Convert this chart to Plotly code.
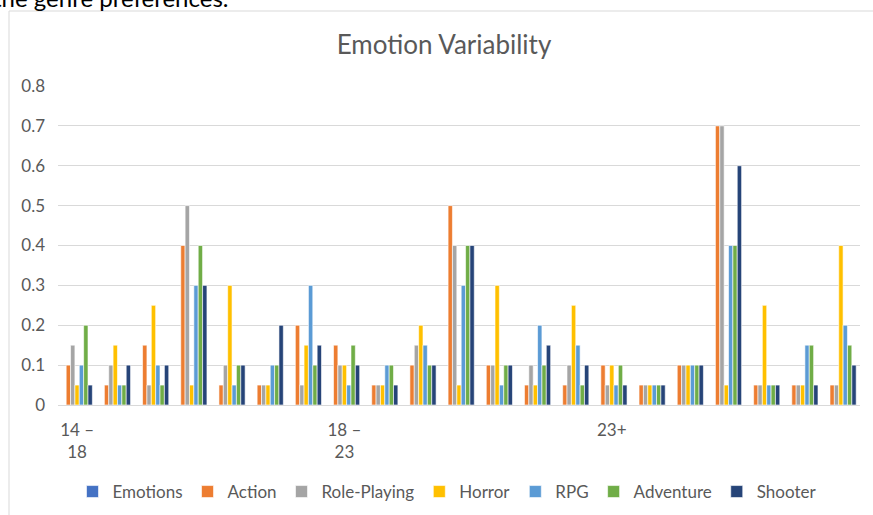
import plotly.graph_objects as go

groups = list(range(21))
tick_positions = [0, 7, 14]
tick_labels = ["14 –<br>18", "18 –<br>23", "23+"]

emotions = [None] * 21
action = [0.1, 0.05, 0.15, 0.4, 0.05, 0.05, 0.2, 0.15, 0.05, 0.1, 0.5, 0.1, 0.05, 0.05, 0.1, 0.05, 0.1, 0.7, 0.05, 0.05, 0.05]
role_playing = [0.15, 0.1, 0.05, 0.5, 0.1, 0.05, 0.05, 0.1, 0.05, 0.15, 0.4, 0.1, 0.1, 0.1, 0.05, 0.05, 0.1, 0.7, 0.05, 0.05, 0.05]
horror = [0.05, 0.15, 0.25, 0.05, 0.3, 0.05, 0.15, 0.1, 0.05, 0.2, 0.05, 0.3, 0.05, 0.25, 0.1, 0.05, 0.1, 0.05, 0.25, 0.05, 0.4]
rpg = [0.1, 0.05, 0.1, 0.3, 0.05, 0.1, 0.3, 0.05, 0.1, 0.15, 0.3, 0.05, 0.2, 0.15, 0.05, 0.05, 0.1, 0.4, 0.05, 0.15, 0.2]
adventure = [0.2, 0.05, 0.05, 0.4, 0.1, 0.1, 0.1, 0.15, 0.1, 0.1, 0.4, 0.1, 0.1, 0.05, 0.1, 0.05, 0.1, 0.4, 0.05, 0.15, 0.15]
shooter = [0.05, 0.1, 0.1, 0.3, 0.1, 0.2, 0.15, 0.1, 0.05, 0.1, 0.4, 0.1, 0.15, 0.1, 0.05, 0.05, 0.1, 0.6, 0.05, 0.05, 0.1]

series = [
    ("Emotions", emotions, "#4472C4"),
    ("Action", action, "#ED7D31"),
    ("Role-Playing", role_playing, "#A5A5A5"),
    ("Horror", horror, "#FFC000"),
    ("RPG", rpg, "#5B9BD5"),
    ("Adventure", adventure, "#70AD47"),
    ("Shooter", shooter, "#264478"),
]

fig = go.Figure()
for name, vals, color in series:
    fig.add_trace(go.Bar(
        x=groups, y=vals, name=name,
        marker=dict(color=color, line=dict(width=0.6, color="white")),
    ))

font_family = "Lato, 'Open Sans', sans-serif"
grey = "#595959"

W, H = 873, 515
L, R, T, B = 58, 13, 86, 110
pw, ph = W - L - R, H - T - B

fig.update_layout(
    width=W, height=H,
    margin=dict(l=L, r=R, t=T, b=B, autoexpand=False),
    paper_bgcolor="white", plot_bgcolor="white",
    barmode="group", bargap=0.2, bargroupgap=0,
    font=dict(family=font_family, size=17, color=grey),
    title=dict(text="Emotion Variability", x=444 / W, xref="container",
               y=1 - 45 / H, yref="container", xanchor="center", yanchor="middle",
               font=dict(size=26, color=grey, family=font_family)),
    xaxis=dict(
        range=[-0.5, 20.5], tickmode="array", tickvals=tick_positions, ticktext=tick_labels,
        showgrid=False, zeroline=False, showline=False, ticks="",
        tickfont=dict(size=17, color=grey), ticklabelstandoff=13,
    ),
    yaxis=dict(
        range=[0, 0.8], dtick=0.1, showgrid=True, gridcolor="#D9D9D9",
        gridwidth=1, zeroline=True, zerolinecolor="#D9D9D9", zerolinewidth=1,
        showline=False, ticks="", tickfont=dict(size=17, color=grey), ticklabelstandoff=12,
    ),
    legend=dict(orientation="h", x=447 / W, xref="container", xanchor="center",
                y=1 - 492 / H, yref="container", yanchor="middle",
                font=dict(size=17, color=grey), itemwidth=30, traceorder="normal"),
    shapes=[dict(type="rect", xref="paper", yref="paper",
                 x0=(9 - L) / pw, x1=1.2, y0=-0.6, y1=1 + (T - 11) / ph,
                 line=dict(color="#D9D9D9", width=1), fillcolor="rgba(0,0,0,0)", layer="below")],
    annotations=[dict(text="the genre preferences.", xref="paper", yref="paper",
                      x=(-9 - L) / pw, y=1 + (T - 14) / ph, xanchor="left", yanchor="bottom",
                      showarrow=False, font=dict(size=24, color="black", family=font_family))],
)

fig.write_html("out.html", config={"displayModeBar": False},
               post_script="document.body.style.margin='0';document.body.style.overflow='hidden';")
